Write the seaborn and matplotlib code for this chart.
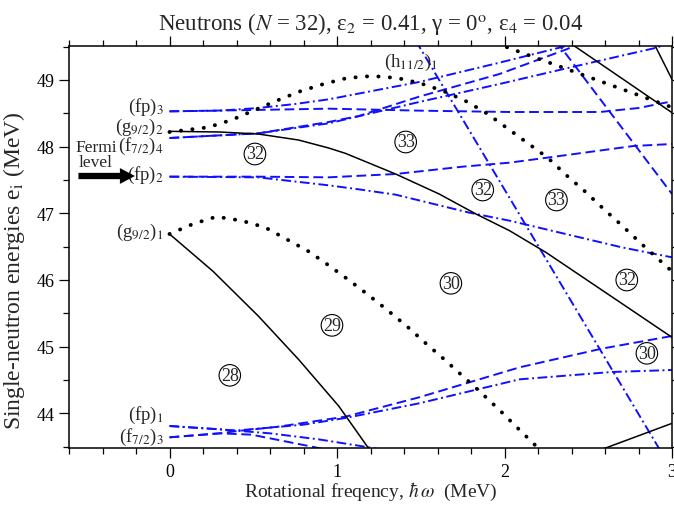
import matplotlib
matplotlib.use("Agg")
import matplotlib.pyplot as plt
import seaborn as sns
import pandas as pd
from matplotlib.ticker import MultipleLocator, FixedLocator

# ---------------- data ----------------
# black solid curves
g92_2_x = [0, 0.30, 0.53, 0.77, 0.95, 1.05, 1.35, 1.61, 1.83, 2.03, 2.25, 2.64, 3.0]
g92_2_y = [48.23, 48.22, 48.19, 48.10, 47.98, 47.90, 47.59, 47.29, 46.99, 46.74, 46.41, 45.75, 45.14]
g92_1_x = [0, 0.26, 0.53, 0.77, 1.01, 1.19, 1.25]
g92_1_y = [46.69, 46.13, 45.46, 44.81, 44.11, 43.47, 43.25]
solA_x = [2.40, 3.0]
solA_y = [49.54, 48.51]
solB_x = [2.88, 3.0]
solB_y = [49.61, 49.01]
solC_x = [2.55, 3.0]
solC_y = [43.43, 43.85]

# black dotted curves
dot1_x = [0, 0.23, 0.37, 0.50, 0.64, 0.78, 0.92, 1.06, 1.21, 1.36, 1.50, 1.64, 1.78, 1.90,
          2.02, 2.14, 2.26, 2.37, 2.48, 2.59, 2.70, 2.81, 2.92, 3.0]
dot1_y = [48.22, 48.29, 48.40, 48.54, 48.69, 48.83, 48.94, 49.03, 49.06, 49.03, 48.95, 48.83,
          48.67, 48.49, 48.27, 48.05, 47.83, 47.57, 47.33, 47.07, 46.82, 46.56, 46.31, 46.13]
dot2_x = [0, 0.14, 0.28, 0.43, 0.57, 0.70, 0.83, 0.95, 1.07, 1.19, 1.30, 1.42, 1.53, 1.64,
          1.75, 1.86, 1.97, 2.07, 2.18, 2.25]
dot2_y = [46.69, 46.84, 46.95, 46.89, 46.79, 46.61, 46.43, 46.22, 46.00, 45.77, 45.55, 45.30,
          45.05, 44.81, 44.56, 44.31, 44.05, 43.80, 43.53, 43.36]
dot3_x = [1.95, 3.0]
dot3_y = [49.55, 48.59]

# blue dashed curves (signature +)
fp3_a_x = [0, 0.5, 0.95, 1.5, 2.03, 2.57, 2.8, 3.0]
fp3_a_y = [48.53, 48.55, 48.57, 48.54, 48.52, 48.52, 48.58, 48.68]
f74_a_x = [0, 0.53, 0.95, 1.13, 1.49, 1.97, 2.37, 2.45]
f74_a_y = [48.13, 48.20, 48.37, 48.46, 48.75, 49.09, 49.46, 49.55]
fp2_a_x = [0, 0.53, 0.95, 1.35, 1.75, 2.03, 2.27, 2.77, 3.0]
fp2_a_y = [47.55, 47.55, 47.54, 47.59, 47.70, 47.76, 47.84, 48.01, 48.04]
h11_a_x = [2.31, 3.0]
h11_a_y = [49.58, 47.29]
f73_a_x = [0, 0.3, 0.39, 0.65, 1.05, 1.49, 2.09, 2.58, 3.0]
f73_a_y = [43.64, 43.70, 43.73, 43.80, 43.95, 44.24, 44.69, 44.97, 45.16]
fp1_a_x = [0, 0.3, 0.49, 0.87, 1.0]
fp1_a_y = [43.64, 43.70, 43.68, 43.49, 43.42]

# blue dash-dot curves (signature -)
fp3_b_x = [0, 0.3, 0.53, 0.75, 0.95, 1.49, 1.97, 2.40]
fp3_b_y = [48.53, 48.54, 48.58, 48.64, 48.71, 48.97, 49.26, 49.53]
f74_b_x = [0, 0.53, 0.95, 1.49, 1.97, 2.43, 2.90, 2.96]
f74_b_y = [48.13, 48.20, 48.35, 48.67, 48.94, 49.21, 49.48, 49.53]
fp2_b_x = [0, 0.53, 0.95, 1.13, 1.35, 1.79, 2.03, 2.70, 3.0]
fp2_b_y = [47.55, 47.54, 47.42, 47.36, 47.28, 47.01, 46.89, 46.49, 46.34]
h11_b_x = [1.47, 2.94]
h11_b_y = [49.59, 43.40]
f73_b_x = [0, 0.3, 0.39, 0.8, 1.05, 1.49, 2.09, 2.64, 3.0]
f73_b_y = [43.81, 43.76, 43.74, 43.83, 43.93, 44.15, 44.51, 44.62, 44.65]
fp1_b_x = [0, 0.3, 0.6, 0.89, 1.19, 1.3]
fp1_b_y = [43.81, 43.76, 43.70, 43.61, 43.49, 43.44]

# circled particle numbers
circ_x = [0.51, 1.41, 1.87, 2.31, 1.68, 0.97, 0.36, 2.73, 2.85]
circ_y = [47.89, 48.07, 47.35, 47.20, 45.95, 45.32, 44.57, 46.00, 44.90]
circ_txt = ["32", "33", "32", "33", "30", "29", "28", "32", "30"]

# orbital labels
lab_txt = [r"(fp)$_3$", r"(g$_{9/2}$)$_2$", r"(f$_{7/2}$)$_4$", r"(fp)$_2$",
           r"(g$_{9/2}$)$_1$", r"(fp)$_1$", r"(f$_{7/2}$)$_3$"]
lab_y = [48.61, 48.31, 48.02, 47.59, 46.73, 43.99, 43.66]

x_ticks = [0, 1, 2, 3]
y_ticks = [44, 45, 46, 47, 48, 49]

# ---------------- styling ----------------
sns.set_style("ticks")
plt.rcParams['font.family'] = ['Liberation Serif', 'DejaVu Serif']
plt.rcParams['mathtext.fontset'] = 'stix'

fig = plt.figure(figsize=(6.74, 5.06), dpi=100)
ax = fig.add_axes([69 / 674, 1 - 449 / 506, (672 - 69) / 674, (449 - 47) / 506])

BLUE = '#1010ff'
styles = {
    'solid': dict(color='black', linewidth=1.1, linestyle='-'),
    'dotted': dict(color='black', linewidth=2.8, linestyle=(0, (0.05, 2.9)),
                   dash_capstyle='round'),
    'dash': dict(color=BLUE, linewidth=1.4, linestyle=(0, (5.0, 2.4))),
    'dashdot': dict(color=BLUE, linewidth=1.4, linestyle=(0, (5.0, 1.8, 1.0, 1.8))),
}

curves = [
    (fp3_a_x, fp3_a_y, 'dash'), (f74_a_x, f74_a_y, 'dash'), (fp2_a_x, fp2_a_y, 'dash'),
    (h11_a_x, h11_a_y, 'dash'), (f73_a_x, f73_a_y, 'dash'), (fp1_a_x, fp1_a_y, 'dash'),
    (fp3_b_x, fp3_b_y, 'dashdot'), (f74_b_x, f74_b_y, 'dashdot'),
    (fp2_b_x, fp2_b_y, 'dashdot'), (h11_b_x, h11_b_y, 'dashdot'),
    (f73_b_x, f73_b_y, 'dashdot'), (fp1_b_x, fp1_b_y, 'dashdot'),
    (g92_2_x, g92_2_y, 'solid'), (g92_1_x, g92_1_y, 'solid'), (solA_x, solA_y, 'solid'),
    (solB_x, solB_y, 'solid'), (solC_x, solC_y, 'solid'),
    (dot1_x, dot1_y, 'dotted'), (dot2_x, dot2_y, 'dotted'), (dot3_x, dot3_y, 'dotted'),
]
for cx, cy, kind in curves:
    df = pd.DataFrame({'w': cx, 'e': cy})
    sns.lineplot(data=df, x='w', y='e', sort=False, estimator=None, ax=ax,
                 legend=False, **styles[kind])

ax.set_xlim(-0.6, 3.0)
ax.set_ylim(43.48, 49.51)

ax.xaxis.set_major_locator(FixedLocator(x_ticks))
ax.xaxis.set_minor_locator(MultipleLocator(0.2))
ax.yaxis.set_major_locator(FixedLocator(y_ticks))
ax.yaxis.set_minor_locator(MultipleLocator(0.5))
ax.tick_params(which='both', direction='out', top=True, right=True, width=0.9,
               labelsize=13, colors='black')
ax.tick_params(which='major', length=7.5, pad=3)
ax.tick_params(which='minor', length=4.3)
for s in ax.spines.values():
    s.set_linewidth(1.1)
    s.set_color('black')

ax.set_xlabel(r"Rotational freqency, $\hbar\,\omega$  (MeV)", fontsize=14, labelpad=0)
ax.set_ylabel(r"Single-neutron energies e$_\mathrm{i}$ (MeV)", fontsize=17)
ax.yaxis.set_label_coords((27 - 69) / 603, (449 - 271) / 402)
ax.set_title(r"Neutrons ($N$ = 32), ε$_2$ = 0.41, γ = 0$^{\mathrm{o}}$, ε$_4$ = 0.04",
             fontsize=16.5, pad=12)

for t, yy in zip(lab_txt, lab_y):
    ax.text(-0.035, yy, t, ha='right', va='center', fontsize=13.5)
ax.text(1.44, 49.28, r"(h$_{11/2}$)$_1$", ha='center', va='center', fontsize=13.5)

for t, xx, yy in zip(circ_txt, circ_x, circ_y):
    ax.text(xx, yy, t, ha='center', va='center', fontsize=13,
            bbox=dict(boxstyle='circle,pad=0.1', fc='none', ec='black', lw=0.8))

ax.text(-0.44, 47.88, "Fermi\nlevel", ha='center', va='center', fontsize=12.5,
        linespacing=0.9)
ax.annotate('', xy=(-0.19, 47.56), xytext=(-0.56, 47.56),
            arrowprops=dict(arrowstyle='simple,head_width=0.95,head_length=0.9,tail_width=0.38',
                            mutation_scale=12, color='black', lw=0))

fig.savefig("out.png", dpi=100)
